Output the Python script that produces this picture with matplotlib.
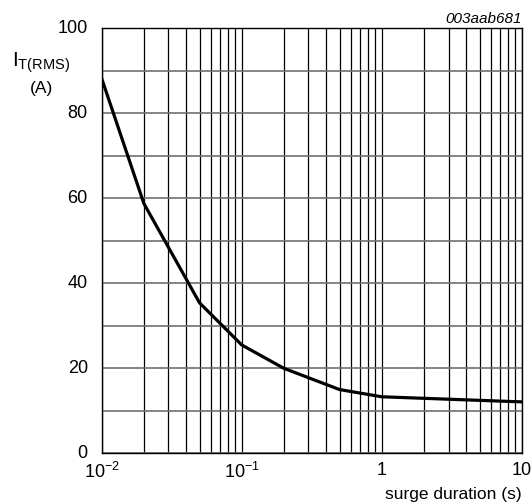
import matplotlib
matplotlib.use("Agg")
import matplotlib.pyplot as plt
from matplotlib.ticker import FixedLocator, LogLocator, NullFormatter

plt.rcParams['font.family'] = ['Liberation Sans', 'DejaVu Sans']
plt.rcParams['mathtext.fontset'] = 'custom'
plt.rcParams['mathtext.rm'] = 'Liberation Sans'
plt.rcParams['mathtext.it'] = 'Liberation Sans:italic'
plt.rcParams['mathtext.default'] = 'regular'

duration = [0.01, 0.02, 0.05, 0.1, 0.2, 0.5, 1.0, 10.0]
current = [88.2, 58.8, 35.4, 25.5, 20.0, 15.0, 13.3, 12.1]
x_ticks = [0.01, 0.1, 1, 10]
x_tick_labels = [r'$10^{-2}$', r'$10^{-1}$', '1', '10']
y_ticks = [0, 20, 40, 60, 80, 100]

fig = plt.figure(figsize=(5.31, 5.03), dpi=100)
ax = fig.add_axes([0.1915, 0.0988, 0.9825 - 0.1915, 0.9437 - 0.0988])
ax.set_xscale('log')
ax.set_xlim(0.01, 10)
ax.set_ylim(0, 100)

# grid
ax.xaxis.set_major_locator(FixedLocator(x_ticks))
ax.xaxis.set_minor_locator(LogLocator(base=10, subs=range(2, 10), numticks=20))
ax.xaxis.set_minor_formatter(NullFormatter())
ax.set_xticklabels(x_tick_labels)
ax.set_yticks(y_ticks)
ax.yaxis.set_minor_locator(FixedLocator(range(10, 100, 20)))
ax.grid(True, axis='x', which='both', color='black', linewidth=0.9)
ax.grid(True, axis='y', which='both', color='#707070', linewidth=1.2)
ax.tick_params(which='both', length=0)
ax.tick_params(axis='y', pad=10, labelsize=13)
for lbl in ax.get_yticklabels():
    lbl.set_verticalalignment('center')
ax.tick_params(axis='x', pad=6, labelsize=13)
for s in ax.spines.values():
    s.set_linewidth(1.0)
    s.set_color('black')

ax.plot(duration, current, color='black', linewidth=2.3, solid_joinstyle='miter', zorder=5)

fig.text(0.982, 0.963, '003aab681', ha='right', va='center', style='italic', fontsize=11)
fig.text(0.022, 0.876, r'$I_{T(RMS)}$', ha='left', va='center', fontsize=15)
fig.text(0.078, 0.825, '(A)', ha='center', va='center', fontsize=12.5)
fig.text(0.982, 0.017, 'surge duration (s)', ha='right', va='center', fontsize=12.5)

fig.savefig('out.png', dpi=100)
